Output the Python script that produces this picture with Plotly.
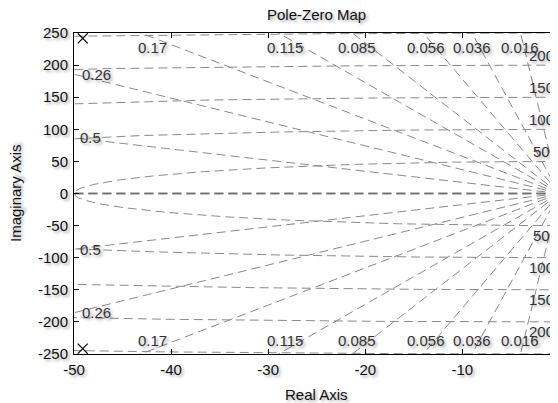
import numpy as np
import plotly.graph_objects as go

# ---- data ----
pole_re = [-49.1, -49.1]
pole_im = [241.7, -241.7]

zeta_values = [0.016, 0.036, 0.056, 0.085, 0.115, 0.17, 0.26, 0.5, 1.0]
wn_values = [50, 100, 150, 200, 250]

# labels of damping lines (text, x, y) on top/bottom edge and left edge
zeta_top_labels = ["0.17", "0.115", "0.085", "0.056", "0.036", "0.016"]
zeta_top_x = [-41.96, -28.26, -20.8, -13.69, -9.0, -4.06]
zeta_top_y = 228.2
zeta_left_labels = ["0.26", "0.5"]
zeta_left_x = [-47.73, -48.25]
zeta_left_y = [184.6, 87.4]

wn_label_values = [50, 100, 150, 200]
wn_label_x = -1.89

x_tickvals = [-50, -40, -30, -20, -10]
x_ticktext = ["-50", "-40", "-30", "-20", "-10"]
y_tickvals = [-250, -200, -150, -100, -50, 0, 50, 100, 150, 200, 250]
y_ticktext = ["-250", "-200", "-150", "-100", "-50", "0", "50", "100", "150", "200", "250"]

FONT = "Liberation Sans, Arial, sans-serif"
SHADOW = "2px 2px 3px rgba(0,0,0,0.35)"
GRID = "#8a8a8a"
DASH = "9px,5px"

fig = go.Figure()

# damping-ratio lines (from origin outward)
R = 400
for z in zeta_values:
    wd = np.sqrt(max(0.0, 1 - z * z))
    for s in (1, -1):
        fig.add_trace(go.Scatter(
            x=[0, -z * R], y=[0, s * wd * R], mode="lines",
            line=dict(color="#6e6e6e" if z == 1.0 else GRID,
                      width=1.3 if z == 1.0 else 1, dash=DASH),
            hoverinfo="skip", showlegend=False))

# natural-frequency semicircles
th = np.linspace(np.pi / 2, 3 * np.pi / 2, 721)
for w in wn_values:
    fig.add_trace(go.Scatter(
        x=w * np.cos(th), y=w * np.sin(th), mode="lines",
        line=dict(color=GRID, width=1, dash=DASH),
        hoverinfo="skip", showlegend=False))

# poles
fig.add_trace(go.Scatter(
    x=pole_re, y=pole_im, mode="markers",
    marker=dict(symbol="x-thin", size=10, line=dict(color="black", width=1.2)),
    showlegend=False))

ann = []
lab_font = dict(family=FONT, size=15, color="#333333", shadow=SHADOW)
for t, x in zip(zeta_top_labels, zeta_top_x):
    for s in (1, -1):
        ann.append(dict(x=x, y=s * zeta_top_y, xref="x", yref="y", text=t,
                        showarrow=False, xanchor="center", yanchor="middle", font=lab_font))
for t, x, y in zip(zeta_left_labels, zeta_left_x, zeta_left_y):
    for s in (1, -1):
        ann.append(dict(x=x, y=s * y, xref="x", yref="y", text=t,
                        showarrow=False, xanchor="center", yanchor="middle", font=lab_font))
for w in wn_label_values:
    for s in (1, -1):
        ann.append(dict(x=wn_label_x, y=s * w, xref="x", yref="y", text=str(w),
                        showarrow=False, xanchor="center", yanchor="middle",
                        yshift=s * 10, font=lab_font))
# partially visible labels at the cut right edge
for y in (29, -33):
    ann.append(dict(x=-0.65, y=y, xref="x", yref="y", text="0", showarrow=False,
                    xanchor="left", yanchor="middle", font=lab_font))

# page body has an 8px margin: figure is drawn at (8, 8) in the window
W, H = 550, 395
L, T, B = 66, 25, 49
PW = W - L            # plot width in px
PH = H - T - B        # plot height in px

ax_font = dict(family=FONT, size=15, color="#111111", shadow=SHADOW)
ann.append(dict(x=0.5, y=1 + (T - 6) / PH, xref="paper", yref="paper", text="Pole-Zero Map",
                showarrow=False, xanchor="center", yanchor="middle", font=ax_font))
ann.append(dict(x=0.5, y=-40 / PH, xref="paper", yref="paper", text="Real Axis",
                showarrow=False, xanchor="center", yanchor="middle", font=ax_font))
ann.append(dict(x=-(L - 7.5) / PW, y=0.5, xref="paper", yref="paper", text="Imaginary Axis",
                textangle=-90, showarrow=False, xanchor="center", yanchor="middle", font=ax_font))
ann.append(dict(x=1 + 1.4 / PW, y=-14 / PH, xref="paper", yref="paper", text="0",
                showarrow=False, xanchor="center", yanchor="middle", font=ax_font))

fig.update_layout(
    width=W, height=H,
    margin=dict(l=L, r=0, t=T, b=B, autoexpand=False),
    paper_bgcolor="white", plot_bgcolor="white",
    annotations=ann,
    xaxis=dict(range=[-50, -50 + PW / 9.7075], showgrid=False, zeroline=False,
               showline=True, linecolor="black", linewidth=1, mirror="ticks",
               ticks="inside", ticklen=5, tickcolor="black",
               tickvals=x_tickvals, ticktext=x_ticktext,
               tickfont=ax_font, ticklabelstandoff=2),
    yaxis=dict(range=[-250, 250], showgrid=False, zeroline=False,
               showline=True, linecolor="black", linewidth=1, mirror=False,
               ticks="inside", ticklen=5, tickcolor="black",
               tickvals=y_tickvals, ticktext=y_ticktext,
               tickfont=ax_font, ticklabelstandoff=2),
)

fig.write_html("out.html")
